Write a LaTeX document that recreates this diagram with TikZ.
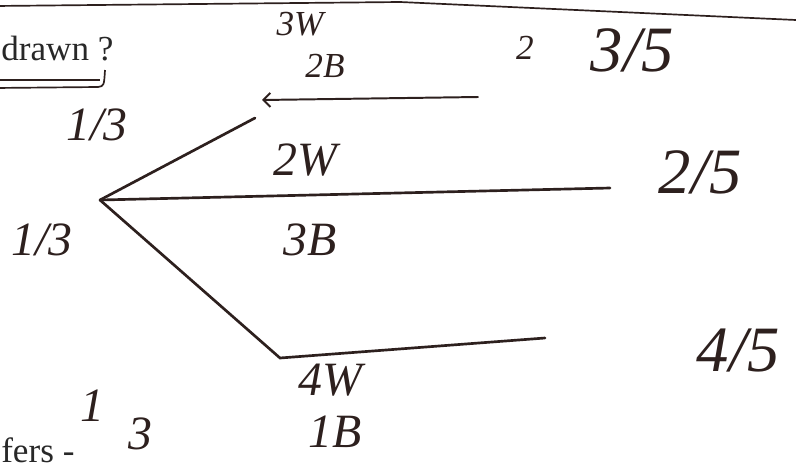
\documentclass[tikz,border=0pt]{standalone}
\usepackage{fontspec}
\setmainfont{Liberation Serif}
\usepackage{tikz}
\usetikzlibrary{arrows.meta,positioning}
\definecolor{inkDark}{RGB}{45,32,30}
\definecolor{printGray}{RGB}{40,40,40}

\begin{document}
\begin{tikzpicture}[x=0.025cm, y=-0.025cm,
  hand/.style={inkDark, font=\fontsize{34}{36}\selectfont\itshape, inner sep=0pt},
  handsmall/.style={hand, font=\fontsize{25}{27}\selectfont\itshape},
  handbig/.style={hand, font=\fontsize{46}{48}\selectfont\itshape},
  printed/.style={printGray, font=\fontsize{25}{27}\selectfont, inner sep=0pt},
  branch/.style={inkDark, line width=1.9pt, line cap=round}]

\useasboundingbox (0,0) rectangle (796,468);

% Page rule and printed text
\draw[inkDark, line width=1.2pt] (-5,6) -- (400,2) -- (796,20);
\node[printed, anchor=base west] (qtext) at (1,60) {drawn ?};
\node[printed, anchor=base west] (ftext) at (1,462) {fers -};
\draw[inkDark, line width=1.2pt] (-5,80) -- (100,80);
\draw[inkDark, line width=1.2pt] (-5,88) -- (98,87) .. controls (104,86) .. (105,70);

% Tree points
\coordinate (root) at (100,200);
\coordinate (upEnd) at (255,118);
\coordinate (midEnd) at (610,188);
\coordinate (lowEnd) at (280,358);
\coordinate (lowTip) at (545,338);
\coordinate (arrA) at (478,97);
\coordinate (arrB) at (262,100);

% Branches
\draw[branch] (root) -- (upEnd);
\draw[branch] (root) -- (midEnd);
\draw[branch] (root) -- (lowEnd) -- (lowTip);
\draw[branch, line width=1.4pt, -{Straight Barb[length=5pt]}] (arrA) -- (arrB);

% Probabilities on first stage
\node[hand] (pUp)   at (97,125)  {1/3};
\node[hand] (pLeft) at (42,240)  {1/3};
\node[hand] (pOne)  at (92,406)  {1};
\node[hand] (pThr)  at (140,434) {3};

% Urn contents
\node[handsmall] (w3) at (300,24)  {3W};
\node[handsmall] (b2) at (325,66)  {2B};
\node[hand]      (w2) at (305,160) {2W};
\node[hand]      (b3) at (310,240) {3B};
\node[hand]      (w4) at (330,380) {4W};
\node[hand]      (b1) at (335,432) {1B};

% Results
\node[handsmall] (eqz)   at (525,48)  {2};
\node[handbig]   (r35)   at (632,50)  {3/5};
\node[handbig]   (r25)   at (700,172) {2/5};
\node[handbig]   (r45)   at (738,350) {4/5};

\end{tikzpicture}
\end{document}
